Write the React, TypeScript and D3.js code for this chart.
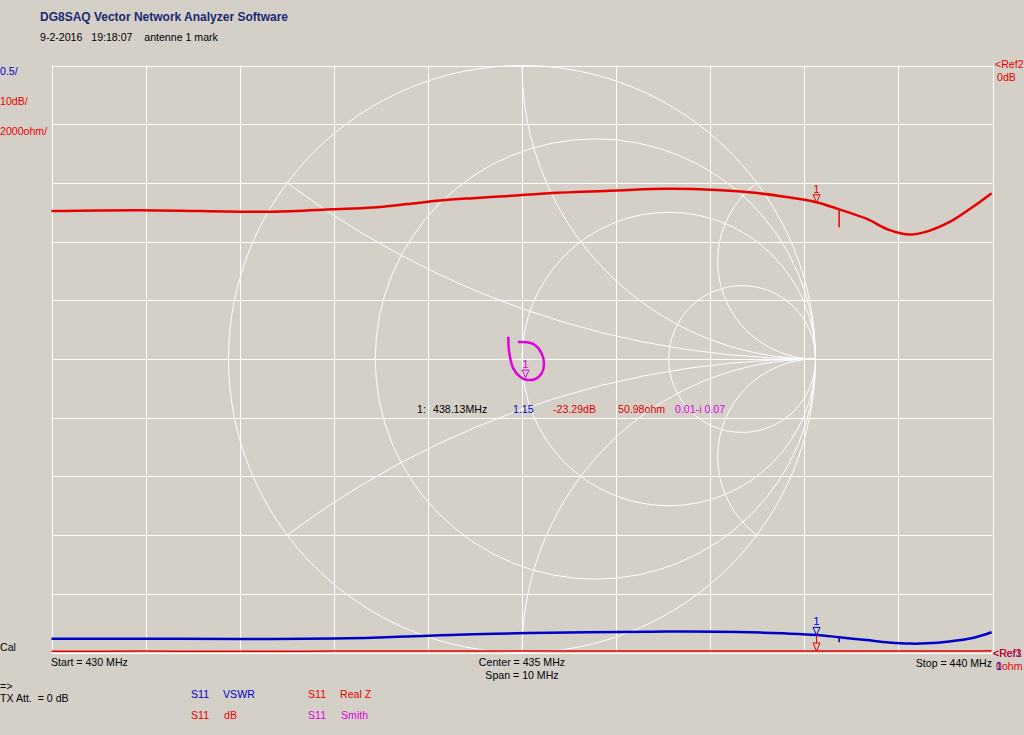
import React from 'react';
import * as d3 from 'd3';

// ---- data ----
const freqs = [430.0, 430.94, 432.0, 432.35, 432.99, 433.41, 433.78, 434.13, 434.48, 434.94, 435.29, 436.01, 436.54, 437.07, 437.42, 437.77, 438.13, 438.37, 438.66, 438.9, 439.12, 439.3, 439.54, 439.79, 439.99];
const dbValues = [-24.8, -24.65, -24.9, -24.9, -24.5, -24.2, -23.6, -23.0, -22.6, -22.15, -21.75, -21.3, -21.0, -21.2, -21.6, -22.3, -23.29, -24.5, -26.1, -28.0, -28.8, -28.3, -26.7, -24.1, -21.75];
const vswrValues = [1.117, 1.118, 1.115, 1.116, 1.12, 1.126, 1.136, 1.146, 1.155, 1.163, 1.169, 1.175, 1.178, 1.177, 1.172, 1.163, 1.15, 1.13, 1.106, 1.086, 1.076, 1.078, 1.094, 1.124, 1.172];
const realZValues = [46, 47, 45, 46, 47, 48, 49, 50, 51, 52, 53, 54, 55, 55, 54, 53, 50.98, 49, 48, 47, 47, 48, 50, 53, 56];

const smithFreqs = [430.0, 431.5, 433.0, 434.5, 435.5, 436.5, 437.4, 438.13, 438.7, 439.3, 439.7, 440.0];
const smithRe = [-0.014, 0.016, 0.044, 0.067, 0.075, 0.067, 0.044, 0.012, -0.007, -0.030, -0.043, -0.047];
const smithIm = [0.058, 0.057, 0.048, 0.019, -0.015, -0.049, -0.069, -0.070, -0.060, -0.032, 0.019, 0.076];

const resistanceCircles = [1 / 3, 1, 3];
const reactanceArcs = [1 / 3, 1, 3, -1 / 3, -1, -3];

const markerFreq = 438.13;
const markerIndex = 16;
const tickFreq = 438.37;
const tickIndex = 17;

const xTicks = d3.range(0, 11);
const yTicks = d3.range(0, 11);

const readout = [
  { text: '1:', x: 417, color: '#000000' },
  { text: '438.13MHz', x: 433, color: '#000000' },
  { text: '1.15', x: 513, color: '#0000c8' },
  { text: '-23.29dB', x: 553, color: '#e00000' },
  { text: '50.98ohm', x: 618, color: '#e00000' },
  { text: '0.01-i 0.07', x: 675, color: '#e000e0' },
];

// ---- layout ----
const W = 1024;
const H = 735;
const L = 51.5;
const R = 992.5;
const T = 65.5;
const B = 652.5;
const BG = '#d4d0c8';
const RED = '#e80000';
const BLUE = '#0000c8';
const MAG = '#e000e0';
const FONT = '"Liberation Sans", Arial, sans-serif';
const FS = 10.6;

export default function App() {
  const x = d3.scaleLinear().domain([430, 440]).range([L, R]);
  const yDb = d3.scaleLinear().domain([-100, 0]).range([B, T]);
  const yVswr = d3.scaleLinear().domain([1, 6]).range([B, T]);
  const yZ = d3.scaleLinear().domain([0, 20000]).range([B, T]);
  const gx = d3.scaleLinear().domain([0, 10]).range([L, R]);
  const gy = d3.scaleLinear().domain([0, 10]).range([T, B]);

  const cx = (L + R) / 2;
  const cy = (T + B) / 2;
  const rad = (B - T) / 2;
  const sx = d3.scaleLinear().domain([-1, 1]).range([cx - rad, cx + rad]);
  const sy = d3.scaleLinear().domain([-1, 1]).range([cy + rad, cy - rad]);

  const dbLine = d3.line<number>().x((_, i) => x(freqs[i])).y((d) => yDb(d)).curve(d3.curveCatmullRom);
  const vswrLine = d3.line<number>().x((_, i) => x(freqs[i])).y((d) => yVswr(d)).curve(d3.curveCatmullRom);
  const zLine = d3.line<number>().x((_, i) => x(freqs[i])).y((d) => yZ(d)).curve(d3.curveCatmullRom);
  const smithLine = d3.line<number>().x((d) => sx(d)).y((_, i) => sy(smithIm[i])).curve(d3.curveCatmullRom);

  const tri = (px: number, py: number, color: string, label: string, key: string) => (
    <g key={key}>
      <path d={`M${px - 3.5},${py - 7.5} L${px + 3.5},${py - 7.5} L${px},${py} Z`} fill="none" stroke={color} strokeWidth={1} />
      <text x={px} y={py - 9.5} fill={color} fontSize={11.5} textAnchor="middle" fontFamily={FONT}>{label}</text>
    </g>
  );

  const mx = x(markerFreq);
  const tx = x(tickFreq);

  return (
    <svg width={W} height={H} style={{ position: 'absolute', left: 0, top: 0, display: 'block' }} fontFamily={FONT}>
      <rect x={0} y={0} width={W} height={H} fill={BG} />
      <defs>
        <clipPath id="unit">
          <circle cx={cx} cy={cy} r={rad} />
        </clipPath>
      </defs>

      {/* title */}
      <text x={40} y={21} fontSize={12} fontWeight="bold" fill="#1a2870" textLength={248} lengthAdjust="spacingAndGlyphs">DG8SAQ Vector Network Analyzer Software</text>
      <text x={40} y={41} fontSize={FS} fill="#000" xmlSpace="preserve">{'9-2-2016   19:18:07    antenne 1 mark'}</text>

      {/* grid */}
      <g stroke="#ffffff" strokeWidth={1}>
        {xTicks.map((i) => (
          <line key={'gx' + i} x1={Math.round(gx(i)) + 0.5} x2={Math.round(gx(i)) + 0.5} y1={T} y2={B} />
        ))}
        {yTicks.map((i) => (
          <line key={'gy' + i} x1={L} x2={R} y1={Math.round(gy(i)) + 0.5} y2={Math.round(gy(i)) + 0.5} />
        ))}
      </g>

      {/* smith chart */}
      <g stroke="#ffffff" strokeWidth={1} fill="none">
        <circle cx={cx} cy={cy} r={rad} />
        {resistanceCircles.map((r) => (
          <circle key={'r' + r} cx={sx(r / (1 + r))} cy={cy} r={rad / (1 + r)} />
        ))}
        <g clipPath="url(#unit)">
          {reactanceArcs.map((xv) => (
            <circle key={'x' + xv} cx={sx(1)} cy={sy(1 / xv)} r={rad / Math.abs(xv)} />
          ))}
        </g>
      </g>

      {/* axis labels left */}
      <text x={0} y={75} fontSize={FS} fill={BLUE}>0.5/</text>
      <text x={0} y={105} fontSize={FS} fill={RED}>10dB/</text>
      <text x={0} y={135} fontSize={FS} fill={RED}>2000ohm/</text>
      <text x={0} y={651} fontSize={FS} fill="#000">Cal</text>

      {/* right labels */}
      <text x={995} y={68} fontSize={FS} fill={RED}>&lt;Ref2</text>
      <text x={997} y={81} fontSize={FS} fill={RED}>0dB</text>
      <text x={993} y={657} fontSize={FS} fill={BLUE}>&lt;Ref1</text>
      <text x={993} y={657} fontSize={FS} fill={RED}>&lt;Ref3</text>
      <text x={996} y={670} fontSize={FS} fill={RED}>0ohm</text>
      <text x={996} y={670} fontSize={FS} fill={BLUE}>1</text>

      {/* traces */}
      <path d={zLine(realZValues) || ''} fill="none" stroke={RED} strokeWidth={1.5} />
      <path d={vswrLine(vswrValues) || ''} fill="none" stroke={BLUE} strokeWidth={2.5} />
      <path d={dbLine(dbValues) || ''} fill="none" stroke={RED} strokeWidth={2.5} />
      <path d={smithLine(smithRe) || ''} fill="none" stroke={MAG} strokeWidth={2.5} />

      {/* markers */}
      {tri(mx, yDb(dbValues[markerIndex]), RED, '1', 'mdb')}
      {tri(mx, yVswr(vswrValues[markerIndex]), BLUE, '1', 'mvs')}
      <line x1={mx} x2={mx} y1={yVswr(vswrValues[markerIndex])} y2={yZ(realZValues[markerIndex]) - 8} stroke={RED} strokeWidth={1} />
      <path d={`M${mx - 3.5},${yZ(realZValues[markerIndex]) - 8} L${mx + 3.5},${yZ(realZValues[markerIndex]) - 8} L${mx},${yZ(realZValues[markerIndex])} Z`} fill="none" stroke={RED} strokeWidth={1} />
      {tri(sx(smithRe[7]), sy(smithIm[7]) - 2, MAG, '1', 'msm')}
      <line x1={tx} x2={tx} y1={yDb(dbValues[tickIndex])} y2={yDb(dbValues[tickIndex]) + 18} stroke={RED} strokeWidth={1.5} />
      <line x1={tx} x2={tx} y1={yVswr(vswrValues[tickIndex])} y2={yVswr(vswrValues[tickIndex]) + 5} stroke={BLUE} strokeWidth={1.5} />

      {/* readout */}
      {readout.map((r) => (
        <text key={r.text} x={r.x} y={413} fontSize={FS} fill={r.color}>{r.text}</text>
      ))}

      {/* bottom labels */}
      <text x={51} y={666} fontSize={FS} fill="#000">Start = 430 MHz</text>
      <text x={522} y={666} fontSize={FS} fill="#000" textAnchor="middle">Center = 435 MHz</text>
      <text x={522} y={679} fontSize={FS} fill="#000" textAnchor="middle">Span = 10 MHz</text>
      <text x={992} y={667} fontSize={FS} fill="#000" textAnchor="end">Stop = 440 MHz</text>
      <text x={0} y={690} fontSize={FS} fill="#000">=&gt;</text>
      <text x={0} y={702} fontSize={FS} fill="#000" xmlSpace="preserve">{'TX Att.  = 0 dB'}</text>

      {/* legend */}
      <text x={191} y={698} fontSize={FS} fill={BLUE}>S11</text>
      <text x={223} y={698} fontSize={FS} fill={BLUE}>VSWR</text>
      <text x={191} y={719} fontSize={FS} fill={RED}>S11</text>
      <text x={224} y={719} fontSize={FS} fill={RED}>dB</text>
      <text x={308} y={698} fontSize={FS} fill={RED}>S11</text>
      <text x={340} y={698} fontSize={FS} fill={RED}>Real Z</text>
      <text x={308} y={719} fontSize={FS} fill={MAG}>S11</text>
      <text x={341} y={719} fontSize={FS} fill={MAG}>Smith</text>
    </svg>
  );
}
